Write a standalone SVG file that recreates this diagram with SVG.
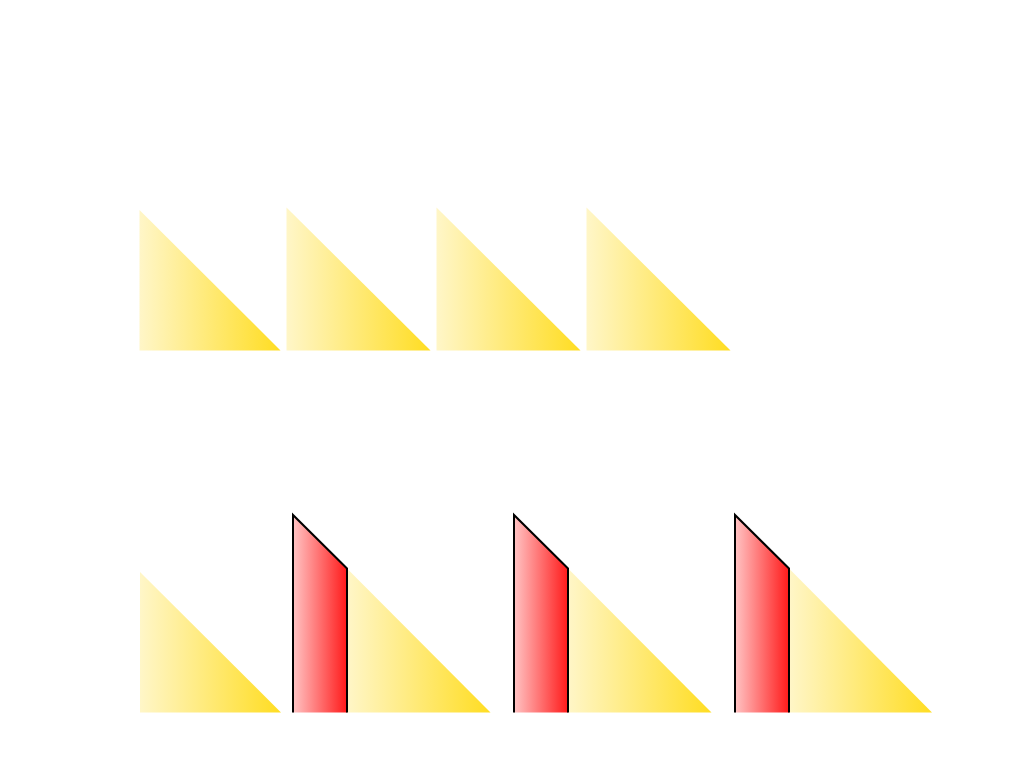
<svg xmlns="http://www.w3.org/2000/svg" width="1024" height="763" viewBox="0 0 1024 763">
<defs>
<linearGradient id="yg" x1="0" y1="0" x2="1" y2="0"><stop offset="0" stop-color="#fff6c8"/><stop offset="1" stop-color="#ffdd22"/></linearGradient>
<linearGradient id="rg" x1="0" y1="0" x2="1" y2="0"><stop offset="0" stop-color="#ffc4c4"/><stop offset="1" stop-color="#ff1a1a"/></linearGradient>
</defs>
<style>.y{fill:url(#yg)}.r{fill:url(#rg)}.o{fill:none;stroke:#000;stroke-width:2;stroke-linejoin:miter}</style>
<g id="top1"><polygon class="y" points="139.5,210 280.5,350.5 139.5,350.5"/></g>
<g id="top2"><polygon class="y" points="286.5,207.5 430.5,350.5 286.5,350.5"/></g>
<g id="top3"><polygon class="y" points="436.5,207.5 580.5,350.5 436.5,350.5"/></g>
<g id="top4"><polygon class="y" points="586.5,207.5 730.5,350.5 586.5,350.5"/></g>
<g id="bot1"><polygon class="y" points="140,572 281,712.5 140,712.5"/></g>
<g id="bot2">
<polygon class="y" points="347,568.5 490.5,712.5 347,712.5"/>
<polygon class="r" points="293,515 347,568.5 347,712.5 293,712.5"/>
<path class="o" d="M293,712.5 V515 L347,568.5 V712.5"/>
</g>
<g id="bot3">
<polygon class="y" points="568,568.5 711.5,712.5 568,712.5"/>
<polygon class="r" points="514,515 568,568.5 568,712.5 514,712.5"/>
<path class="o" d="M514,712.5 V515 L568,568.5 V712.5"/>
</g>
<g id="bot4">
<polygon class="y" points="789,568.5 932,712.5 789,712.5"/>
<polygon class="r" points="735,515 789,568.5 789,712.5 735,712.5"/>
<path class="o" d="M735,712.5 V515 L789,568.5 V712.5"/>
</g>
</svg>
